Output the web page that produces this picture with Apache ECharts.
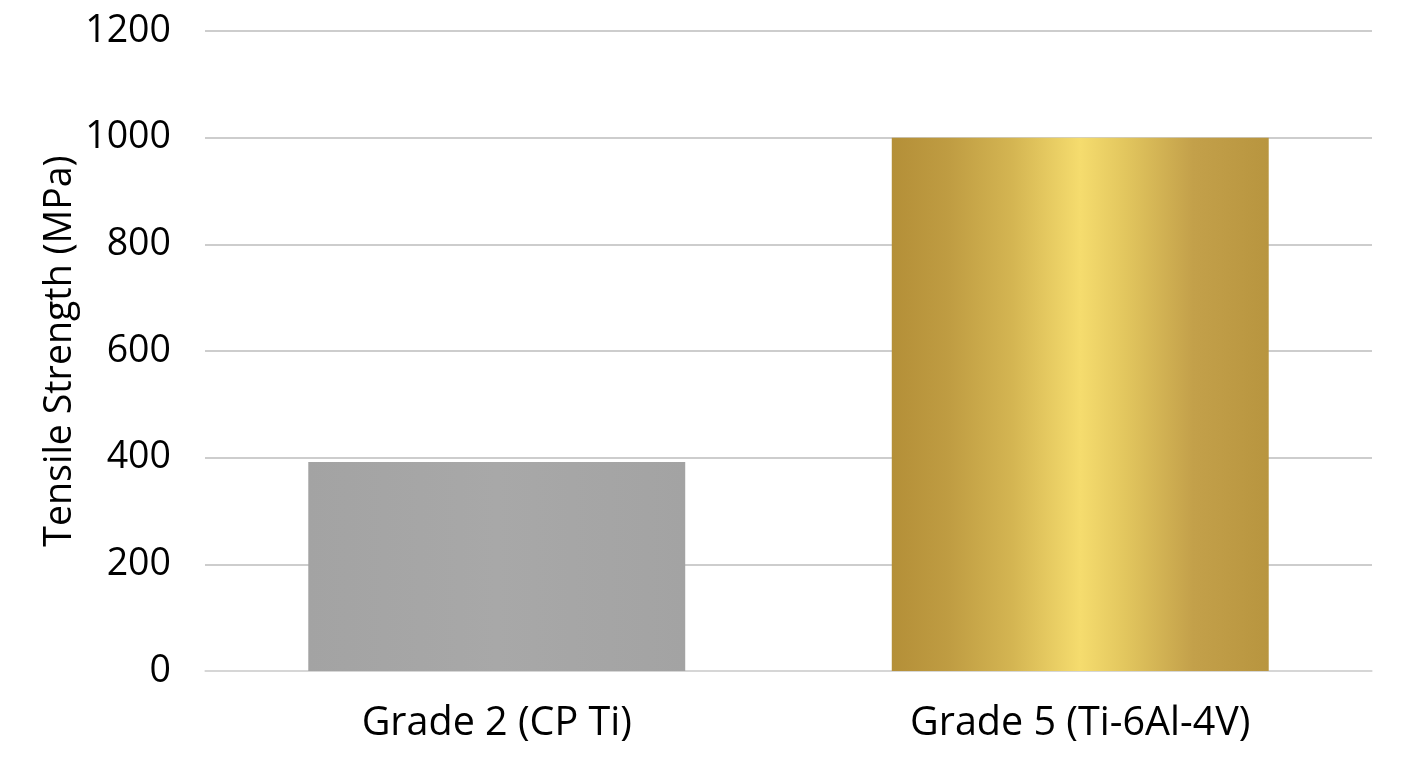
<!DOCTYPE html>
<html><head><meta charset="utf-8">
<script src="https://cdn.jsdelivr.net/npm/echarts@6/dist/echarts.min.js"></script>
<style>html,body{margin:0;padding:0;background:#fff}#c{width:1408px;height:768px}</style>
</head><body><div id="c"></div>
<script>
const categories = ['Grade 2 (CP Ti)', 'Grade 5 (Ti-6Al-4V)'];
const values = [392, 1000];
const yTicks = [0, 200, 400, 600, 800, 1000, 1200];
const yName = 'Tensile Strength (MPa)';

const gold = {
  type: 'linear', x: 0, y: 0, x2: 1, y2: 0,
  colorStops: [
    {offset: 0, color: '#b48f38'},
    {offset: 0.15, color: '#bf9c42'},
    {offset: 0.32, color: '#d4b552'},
    {offset: 0.5, color: '#f5dc6e'},
    {offset: 0.62, color: '#e2c65e'},
    {offset: 0.8, color: '#c3a04a'},
    {offset: 1, color: '#b8953f'}
  ]
};
const grey = {
  type: 'linear', x: 0, y: 0, x2: 1, y2: 0,
  colorStops: [
    {offset: 0, color: '#a3a3a3'},
    {offset: 0.5, color: '#a8a8a8'},
    {offset: 1, color: '#a3a3a3'}
  ]
};
const colors = [grey, gold];

const chart = echarts.init(document.getElementById('c'));
chart.setOption({
  animation: false,
  grid: {left: 205, right: 36, top: 31, bottom: 97, containLabel: false},
  xAxis: {
    type: 'category', data: categories,
    axisLine: {show: true, lineStyle: {color: '#d9d9d9', width: 1.5}},
    axisTick: {show: false},
    axisLabel: {color: '#000', fontSize: 39.5, fontFamily: 'Open Sans', margin: 33}
  },
  yAxis: {
    type: 'value', min: 0, max: 1200, interval: 200,
    name: yName, nameLocation: 'middle', nameGap: 126, nameMoveOverlap: false,
    nameTextStyle: {color: '#000', fontSize: 37.5, fontFamily: 'Open Sans'},
    axisLine: {show: false}, axisTick: {show: false},
    axisLabel: {color: '#000', fontSize: 37.5, fontFamily: 'Open Sans', margin: 34,
      formatter: v => yTicks.includes(v) ? String(v) : ''},
    splitLine: {lineStyle: {color: '#bdbdbd', width: 1.5}}
  },
  series: [{
    type: 'bar', barWidth: '64.6%',
    data: values.map((v, i) => ({value: v, itemStyle: {color: colors[i]}}))
  }]
});
</script></body></html>
